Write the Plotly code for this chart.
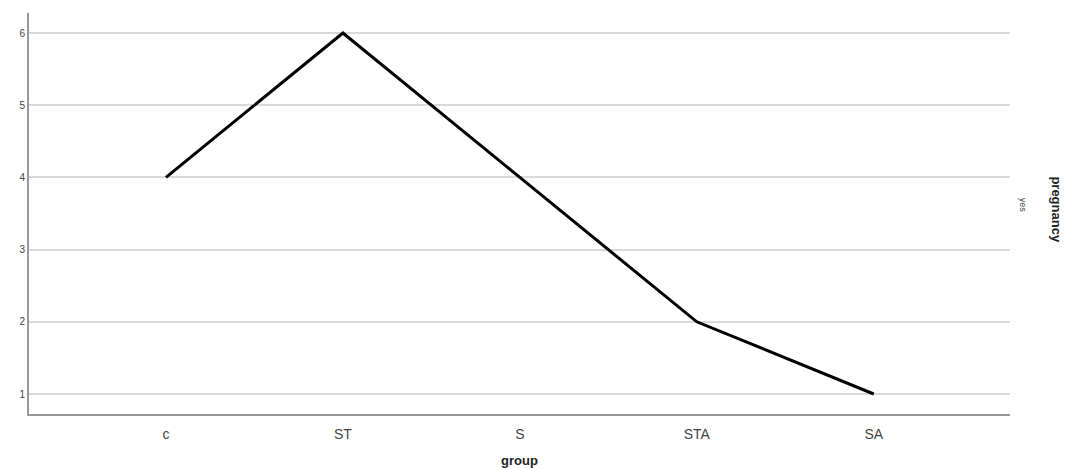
import plotly.graph_objects as go

groups = ["c", "ST", "S", "STA", "SA"]
counts = [4, 6, 4, 2, 1]
y_ticks = [1, 2, 3, 4, 5, 6]

fig = go.Figure()
fig.add_trace(go.Scatter(x=groups, y=counts, mode="lines",
                         line=dict(color="black", width=3), showlegend=False))

# page body has an 8px default margin; size the figure so the plot area lands where the reference's does
fig.update_layout(
    width=1062, height=460,
    margin=dict(l=21, r=60, t=5, b=54, autoexpand=False),
    paper_bgcolor="white", plot_bgcolor="white",
    font=dict(family="Liberation Sans, Arial, sans-serif", color="#333"),
    xaxis=dict(range=[-0.774, 4.77], showgrid=False, showline=True,
               linecolor="#999", linewidth=2, ticks="", ticklabelstandoff=6,
               tickfont=dict(size=14, color="#444"),
               title=dict(text="<b>group</b>", font=dict(size=13, color="#222"), standoff=18)),
    yaxis=dict(range=[0.723, 6.277], tickvals=y_ticks, showgrid=True, gridcolor="#d9d9d9",
               gridwidth=1.5, showline=True, linecolor="#999", linewidth=2, ticks="",
               tickfont=dict(size=10, color="#444"), zeroline=False),
    annotations=[
        dict(text="<b>pregnancy</b>", xref="paper", yref="paper", x=1.047, y=0.51,
             xanchor="center", yanchor="middle",
             textangle=90, showarrow=False, font=dict(size=13, color="#222")),
        dict(text="yes", xref="paper", yref="paper", x=1.013, y=0.52,
             xanchor="center", yanchor="middle",
             textangle=90, showarrow=False, font=dict(size=9, color="#444")),
    ],
)
fig.write_html("out.html")
